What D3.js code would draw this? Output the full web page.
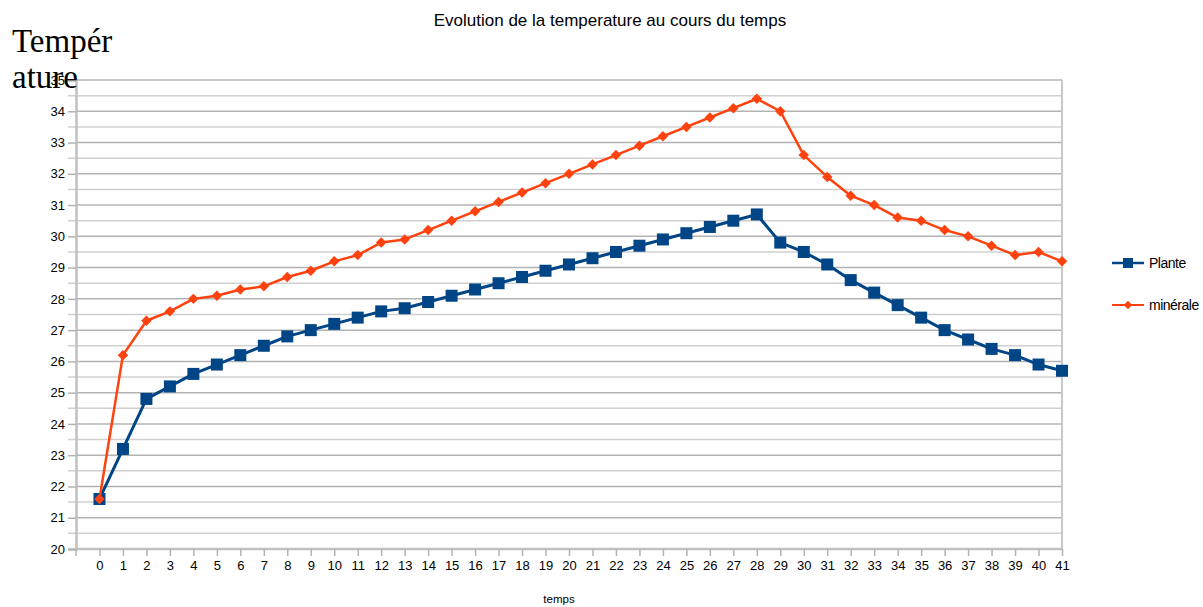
<!DOCTYPE html>
<html>
<head>
<meta charset="utf-8">
<script src="https://cdn.jsdelivr.net/npm/d3@7"></script>
<style>
  html, body { margin: 0; padding: 0; background: #fff; }
  svg { display: block; }
</style>
</head>
<body>
<svg id="chart" width="1203" height="607"></svg>
<script>
const categories = d3.range(0, 42);
const plante = [21.6, 23.2, 24.8, 25.2, 25.6, 25.9, 26.2, 26.5, 26.8, 27.0, 27.2, 27.4, 27.6, 27.7, 27.9, 28.1, 28.3, 28.5, 28.7, 28.9, 29.1, 29.3, 29.5, 29.7, 29.9, 30.1, 30.3, 30.5, 30.7, 29.8, 29.5, 29.1, 28.6, 28.2, 27.8, 27.4, 27.0, 26.7, 26.4, 26.2, 25.9, 25.7];
const minerale = [21.6, 26.2, 27.3, 27.6, 28.0, 28.1, 28.3, 28.4, 28.7, 28.9, 29.2, 29.4, 29.8, 29.9, 30.2, 30.5, 30.8, 31.1, 31.4, 31.7, 32.0, 32.3, 32.6, 32.9, 33.2, 33.5, 33.8, 34.1, 34.4, 34.0, 32.6, 31.9, 31.3, 31.0, 30.6, 30.5, 30.2, 30.0, 29.7, 29.4, 29.5, 29.2];
const yTicks = d3.range(20, 36);
const yMinorTicks = d3.range(20.5, 35, 1);
const seriesNames = ["Plante", "minérale"];
const title = "Evolution de la temperature au cours du temps";
const yTitle = ["Tempér", "ature"];
const xTitle = "temps";

const svg = d3.select("#chart");
const pLeft = 76, pRight = 1062, pTop = 80, pBottom = 549;
const x = d3.scaleLinear().domain([-1, 41]).range([pLeft, pRight]);
const y = d3.scaleLinear().domain([20, 35]).range([pBottom, pTop]);
const font = "'Liberation Sans', Arial, sans-serif";
const grid = "#b3b3b3";

// minor gridlines
svg.append("g").selectAll("line").data(yMinorTicks).join("line")
  .attr("x1", pLeft - 8).attr("x2", pRight)
  .attr("y1", d => y(d)).attr("y2", d => y(d))
  .attr("stroke", "#d0d0d0").attr("stroke-width", 1.5);

// major gridlines
svg.append("g").selectAll("line").data(yTicks).join("line")
  .attr("x1", pLeft).attr("x2", pRight)
  .attr("y1", d => y(d)).attr("y2", d => y(d))
  .attr("stroke", grid).attr("stroke-width", 1.5);

// y axis
const yAxis = svg.append("g").attr("transform", `translate(${pLeft},0)`)
  .call(d3.axisLeft(y).tickValues(yTicks).tickFormat(d3.format("d")).tickSize(8).tickPadding(3));
yAxis.select(".domain").attr("stroke", "#c0c0c0").attr("stroke-width", 2.5);
yAxis.selectAll(".tick line").attr("stroke", grid).attr("stroke-width", 1.5);
yAxis.selectAll(".tick text").attr("font-family", font).attr("font-size", 13).attr("fill", "#000");

// right border
svg.append("line").attr("x1", pRight).attr("x2", pRight).attr("y1", pTop).attr("y2", pBottom)
  .attr("stroke", "#c8c8c8").attr("stroke-width", 2);

// x axis
const xAxis = svg.append("g").attr("transform", `translate(0,${pBottom})`)
  .call(d3.axisBottom(x).tickValues(categories).tickFormat(d3.format("d")).tickSize(7).tickPadding(5).tickSizeOuter(0));
xAxis.select(".domain").attr("stroke", "#c0c0c0").attr("stroke-width", 2.5).attr("d", `M${pLeft},0H${pRight}`);
xAxis.selectAll(".tick line").attr("stroke", grid).attr("stroke-width", 1.5);
xAxis.selectAll(".tick text").attr("font-family", font).attr("font-size", 13).attr("fill", "#000");
xAxis.append("line").attr("x1", pLeft).attr("x2", pLeft).attr("y1", 0).attr("y2", 7)
  .attr("stroke", grid).attr("stroke-width", 1.5);

const line = d3.line().x((d, i) => x(categories[i])).y(d => y(d));

const blue = "#004586", orange = "#ff420e";

// Plante
svg.append("path").datum(plante).attr("d", line)
  .attr("fill", "none").attr("stroke", blue).attr("stroke-width", 3).attr("stroke-linejoin", "round");
svg.append("g").selectAll("rect").data(plante).join("rect")
  .attr("x", (d, i) => x(categories[i]) - 6).attr("y", d => y(d) - 6)
  .attr("width", 12).attr("height", 12).attr("fill", blue);

// minérale
svg.append("path").datum(minerale).attr("d", line)
  .attr("fill", "none").attr("stroke", orange).attr("stroke-width", 2.5).attr("stroke-linejoin", "round");
const diamond = d3.symbol().type(d3.symbolDiamond2).size(70);
svg.append("g").selectAll("path").data(minerale).join("path")
  .attr("d", diamond)
  .attr("transform", (d, i) => `translate(${x(categories[i])},${y(d)})`)
  .attr("fill", orange);

// title
svg.append("text").attr("x", 610).attr("y", 26).attr("text-anchor", "middle")
  .attr("font-family", font).attr("font-size", 17).attr("fill", "#000").text(title);

// y title (serif, large)
svg.append("g").selectAll("text").data(yTitle).join("text")
  .attr("x", 12).attr("y", (d, i) => 52 + i * 36)
  .attr("font-family", "'Liberation Serif', 'Times New Roman', serif").attr("font-size", 33)
  .attr("fill", "#000").text(d => d);

// x title
svg.append("text").attr("x", 559).attr("y", 603).attr("text-anchor", "middle")
  .attr("font-family", font).attr("font-size", 11.5).attr("fill", "#000").text(xTitle);

// legend
const legend = svg.append("g");
const ly = [263, 305];
legend.selectAll("line").data(seriesNames).join("line")
  .attr("x1", 1112).attr("x2", 1144).attr("y1", (d, i) => ly[i]).attr("y2", (d, i) => ly[i])
  .attr("stroke", (d, i) => i === 0 ? blue : orange).attr("stroke-width", (d, i) => i === 0 ? 2.5 : 2);
legend.append("rect").attr("x", 1123).attr("y", ly[0] - 5).attr("width", 10).attr("height", 10).attr("fill", blue);
legend.append("path").attr("d", d3.symbol().type(d3.symbolDiamond2).size(45))
  .attr("transform", `translate(1128,${ly[1]})`).attr("fill", orange);
legend.selectAll("text").data(seriesNames).join("text")
  .attr("x", 1149).attr("y", (d, i) => ly[i] + 5)
  .attr("font-family", font).attr("font-size", 14).attr("letter-spacing", -0.5)
  .attr("fill", "#000").text(d => d);
</script>
</body>
</html>
